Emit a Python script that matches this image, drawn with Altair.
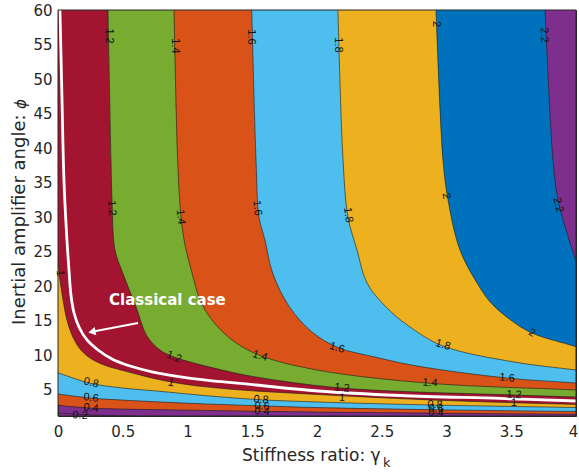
import altair as alt
import pandas as pd

# plot ranges: stiffness ratio gamma_k (x) and inertial amplifier angle phi (y)
X_MIN, X_MAX = 0.0, 4.0
Y_MIN, Y_MAX = 1.2, 60.0
PLOT_W, PLOT_H = 518, 406

x_ticks = [0, 0.5, 1, 1.5, 2, 2.5, 3, 3.5, 4]
y_ticks = [5, 10, 15, 20, 25, 30, 35, 40, 45, 50, 55, 60]

# contour levels and the fill of the band lying above each level
levels = [0.2, 0.4, 0.6, 0.8, 1.0, 1.2, 1.4, 1.6, 1.8, 2.0, 2.2]
band_colors = ["#7E2F8E", "#D95319", "#4DBEEE", "#EDB120", "#A2142F",
               "#77AC30", "#D95319", "#4DBEEE", "#EDB120", "#0072BD", "#7E2F8E"]
base_color = "#7E2F8E"

# contour lines (gamma_k, phi)
c02_x = [0.0, 0.17, 0.37, 0.6]
c02_y = [1.64, 1.42, 1.28, 1.18]

c04_x = [0.0, 0.25, 0.5, 1.0, 1.6, 2.0, 3.0, 4.0]
c04_y = [2.75, 2.35, 2.2, 2.05, 1.87, 1.77, 1.6, 1.45]

c06_x = [0.0, 0.25, 0.5, 1.0, 1.6, 2.0, 3.0, 4.0]
c06_y = [4.39, 3.8, 3.5, 3.05, 2.65, 2.42, 2.08, 1.85]

c08_x = [0.0, 0.25, 0.5, 0.76, 1.2, 1.57, 2.0, 2.9, 4.0]
c08_y = [7.47, 5.94, 5.25, 4.82, 4.05, 3.55, 3.23, 2.79, 2.43]

c10_x = [0.0, 0.015, 0.039, 0.069, 0.108, 0.17, 0.247, 0.355, 0.5, 0.873, 1.274, 2.008, 2.795, 3.521, 4.0]
c10_y = [23.5, 20.9, 18.0, 15.1, 12.93, 10.9, 9.6, 8.59, 7.79, 6.12, 5.18, 4.31, 3.59, 3.12, 2.88]

c12_x = [0.386, 0.409, 0.417, 0.44, 0.5, 0.602, 0.687, 0.788, 0.896, 1.266, 1.529, 2.193, 3.521, 4.0]
c12_y = [60.0, 38.28, 32.48, 25.24, 21.91, 17.03, 12.79, 10.76, 9.74, 7.86, 6.85, 5.25, 4.24, 3.95]

c14_x = [0.896, 0.924, 0.95, 0.981, 1.035, 1.097, 1.189, 1.344, 1.552, 2.0, 2.873, 4.0]
c14_y = [60.0, 38.28, 30.02, 25.96, 21.91, 18.0, 15.1, 12.21, 10.03, 7.86, 5.94, 4.97]

c16_x = [1.496, 1.529, 1.552, 1.598, 1.658, 1.786, 1.961, 2.162, 2.448, 2.772, 3.467, 4.0]
c16_y = [60.0, 38.28, 30.02, 26.69, 21.87, 17.03, 13.37, 11.12, 9.74, 8.44, 6.70, 5.98]

c18_x = [2.162, 2.201, 2.239, 2.309, 2.386, 2.533, 2.718, 2.973, 3.521, 4.0]
c18_y = [60.0, 38.28, 30.02, 25.24, 20.46, 16.99, 14.09, 11.34, 9.02, 7.86]

c20_x = [2.919, 2.973, 3.012, 3.104, 3.236, 3.344, 3.506, 3.66, 4.0]
c20_y = [60.0, 38.28, 32.48, 25.24, 20.46, 17.57, 14.96, 13.22, 11.24]

c22_x = [3.761, 3.822, 3.861, 3.93, 4.0]
c22_y = [60.0, 38.28, 32.48, 27.7, 23.6]

# classical case curve
classic_x = [0.015, 0.031, 0.046, 0.069, 0.085, 0.100, 0.124, 0.162, 0.224, 0.309,
             0.417, 0.556, 0.734, 1.012, 1.529, 2.008, 2.641, 3.413, 4.0]
classic_y = [60.0, 46.97, 35.38, 26.69, 22.34, 18.72, 16.12, 14.09, 12.21, 10.76,
             9.46, 8.44, 7.57, 6.70, 5.69, 4.82, 4.17, 3.74, 3.37]

# inline contour labels
label_text = ["1.2", "1.4", "1.6", "1.8", "2", "2.2",
              "1.2", "1.4", "1.6", "1.8", "2", "2.2",
              "1",
              "1.2", "1.4", "1.6", "1.8", "2",
              "1.6", "1.4", "1.2", "1.2",
              "1", "1", "1",
              "0.8", "0.8", "0.8",
              "0.6", "0.6", "0.6",
              "0.4", "0.4", "0.4",
              "0.2"]
label_x = [0.390, 0.903, 1.489, 2.162, 2.917, 3.753,
           0.415, 0.946, 1.537, 2.239, 2.996, 3.861,
           0.015,
           0.896, 1.560, 2.154, 2.973, 3.660,
           3.467, 2.873, 2.193, 3.521,
           0.873, 2.193, 3.521,
           0.255, 1.568, 2.911,
           0.255, 1.575, 2.919,
           0.255, 1.575, 2.919,
           0.170]
label_y = [56.23, 54.79, 56.09, 54.93, 57.97, 56.38,
           31.32, 30.02, 31.32, 30.31, 33.06, 31.76,
           21.91,
           9.74, 9.89, 11.05, 11.48, 13.22,
           6.70, 5.98, 5.25, 4.24,
           5.98, 3.81, 3.08,
           5.98, 3.52, 2.79,
           3.81, 2.58, 2.21,
           2.32, 1.82, 1.64,
           1.25]
label_angle = [90, 90, 90, 90, 90, 88,
               87, 85, 83, 82, 80, 78,
               82,
               22, 17, 18, 17, 28,
               6, 4, 6, 3,
               12, 5, 3,
               14, 5, 3,
               8, 4, 3,
               5, 3, 2,
               3]

# annotation for the classical case
note_x = [0.394]
note_y = [18.0]
arrow_x = [0.618, 0.262]
arrow_y = [14.67, 13.40]

band_curves = [(c04_x, c04_y), (c06_x, c06_y), (c08_x, c08_y), (c10_x, c10_y),
               (c12_x, c12_y), (c14_x, c14_y), (c16_x, c16_y), (c18_x, c18_y),
               (c20_x, c20_y), (c22_x, c22_y)]
band_fill = band_colors[1:]

x_scale = alt.Scale(domain=[X_MIN, X_MAX], nice=False, zero=False)
y_scale = alt.Scale(domain=[Y_MIN, Y_MAX], nice=False, zero=False)

x_axis = alt.Axis(values=x_ticks, format="~g", labelFlush=False, labelPadding=8,
                  labelOffset={"condition": {"test": "datum.value === 4", "value": -3}, "value": 0},
                  title=None, domain=False, ticks=False, grid=False)
y_axis = alt.Axis(values=y_ticks, format="d", labelFlush=False, labelPadding=6,
                  title=None, domain=False, ticks=False, grid=False)


def xy(field_x="g", field_y="phi"):
    return dict(
        x=alt.X(f"{field_x}:Q", scale=x_scale, axis=x_axis),
        y=alt.Y(f"{field_y}:Q", scale=y_scale, axis=y_axis),
    )


def band_polygon(cx, cy):
    """Region above one contour: the contour itself, carried on past the
    plot edge and closed round outside the visible area."""
    ex = cx[-1] + (cx[-1] - cx[-2])
    ey = cy[-1] + (cy[-1] - cy[-2])
    xs = list(cx) + [ex, X_MAX + 0.5, X_MIN - 0.5]
    ys = list(cy) + [ey, Y_MAX + 5, Y_MAX + 5]
    return pd.DataFrame({"g": xs, "phi": ys, "i": list(range(len(xs)))})


layers = []

# filled bands with their contour line, painted from the lowest level upwards
for (cx, cy), col in zip(band_curves, band_fill):
    layers.append(
        alt.Chart(band_polygon(cx, cy)).mark_line(
            fill=col, stroke="#1a1a1a", strokeWidth=0.6,
            interpolate="catmull-rom", clip=True,
        ).encode(order=alt.Order("i:Q"), **xy())
    )

# lowest contour, only a short stretch of it is inside the plot
low_df = pd.DataFrame({"g": c02_x, "phi": c02_y, "i": list(range(len(c02_x)))})
layers.append(
    alt.Chart(low_df).mark_line(color="#1a1a1a", strokeWidth=0.6,
                                interpolate="catmull-rom", clip=True).encode(
        order=alt.Order("i:Q"), **xy())
)

# classical case line
classic_df = pd.DataFrame({"g": classic_x, "phi": classic_y,
                           "i": list(range(len(classic_x)))})
layers.append(
    alt.Chart(classic_df).mark_line(color="white", strokeWidth=2.8,
                                    interpolate="catmull-rom", clip=True).encode(
        order=alt.Order("i:Q"), **xy())
)

# contour labels
labels_df = pd.DataFrame({"t": label_text, "g": label_x, "phi": label_y, "a": label_angle})
layers.append(
    alt.Chart(labels_df).mark_text(font="Liberation Sans", fontSize=11, color="#111111",
                                   align="center", baseline="middle").encode(
        text="t:N", angle=alt.Angle("a:Q", scale=None), **xy())
)

# "Classical case" note and arrow
note_df = pd.DataFrame({"g": note_x, "phi": note_y, "t": ["Classical case"]})
layers.append(
    alt.Chart(note_df).mark_text(font="DejaVu Sans", fontSize=15, fontWeight="bold",
                                 color="white", align="left", baseline="middle").encode(
        text="t:N", **xy())
)
arrow_df = pd.DataFrame({"g": arrow_x, "phi": arrow_y})
layers.append(
    alt.Chart(arrow_df).mark_line(color="white", strokeWidth=2).encode(**xy())
)
head_df = pd.DataFrame({"g": arrow_x[-1:], "phi": arrow_y[-1:]})
layers.append(
    alt.Chart(head_df).mark_point(shape="triangle-up", filled=True, color="white",
                                  opacity=1, size=70, angle=259).encode(**xy())
)

# plot frame
frame_df = pd.DataFrame({"k": [0]})
layers.append(
    alt.Chart(frame_df).mark_rect(filled=False, stroke="#262626", strokeWidth=1).encode(
        x=alt.value(0), x2=alt.value(PLOT_W), y=alt.value(0), y2=alt.value(PLOT_H))
)

# axis titles
title_style = dict(font="DejaVu Sans", color="#262626")
layers.append(
    alt.Chart(pd.DataFrame({"t": ["Stiffness ratio: γ"]})).mark_text(
        fontSize=17, align="left", baseline="alphabetic", **title_style).encode(
        x=alt.value(184), y=alt.value(451), text="t:N")
)
layers.append(
    alt.Chart(pd.DataFrame({"t": ["k"]})).mark_text(
        fontSize=13, align="left", baseline="alphabetic", **title_style).encode(
        x=alt.value(325), y=alt.value(457), text="t:N")
)
layers.append(
    alt.Chart(pd.DataFrame({"t": ["Inertial amplifier angle:"]})).mark_text(
        fontSize=18, align="left", baseline="alphabetic", angle=270, **title_style).encode(
        x=alt.value(-33), y=alt.value(315), text="t:N")
)
layers.append(
    alt.Chart(pd.DataFrame({"t": ["ϕ"]})).mark_text(
        fontSize=15, fontStyle="italic", align="left", baseline="alphabetic",
        angle=270, **title_style).encode(
        x=alt.value(-32), y=alt.value(99), text="t:N")
)

chart = (
    alt.layer(*layers)
    .properties(
        width=PLOT_W,
        height=PLOT_H,
        autosize=alt.AutoSizeParams(type="none"),
        padding={"left": 58, "top": 10, "right": 3, "bottom": 60},
        background="white",
    )
    .configure_view(fill=base_color, stroke="#262626", strokeWidth=1)
    .configure_axis(labelFont="DejaVu Sans", labelFontSize=15, labelColor="#262626")
)

chart.save("out.html", embed_options={"renderer": "svg", "actions": False})
